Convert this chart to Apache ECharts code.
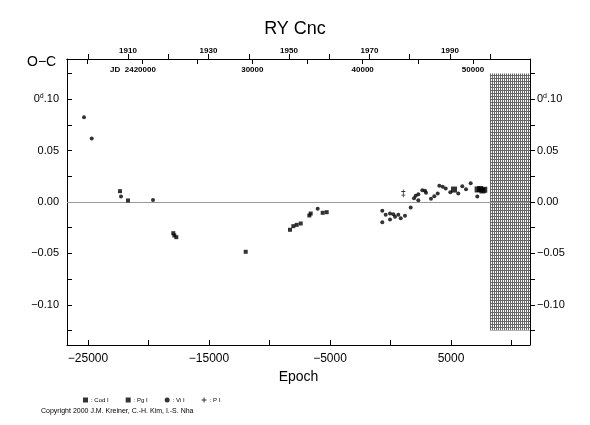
<!DOCTYPE html>
<html>
<head>
<meta charset="utf-8">
<script src="https://cdn.jsdelivr.net/npm/echarts@6/dist/echarts.min.js"></script>
<style>html,body{margin:0;padding:0;background:#fff}#c{width:590px;height:425px}</style>
</head>
<body>
<div id="c"></div>
<script>
// ---- data: [epoch, O-C (days)] ----
const codPoints = [[5248, 0.0121], [7200, 0.0122], [7400, 0.0126], [7600, 0.0112], [7750, 0.0119]];
const pgPoints = [[-22355, 0.0105], [-21694, 0.0015], [-17950, -0.0303], [-17868, -0.0325], [-17702, -0.0342],
  [-11967, -0.0484], [-8306, -0.0270], [-8033, -0.0235], [-7752, -0.0222], [-7421, -0.0209],
  [-6708, -0.0131], [-6595, -0.0112], [-5603, -0.0105], [-5273, -0.0099]];
const viPoints = [[-25331, 0.0823], [-24694, 0.0617], [-22273, 0.0053], [-19628, 0.0020], [-6017, -0.0066],
  [-678, -0.0086], [-678, -0.0196], [-397, -0.0124], [-41, -0.0112], [-41, -0.0170], [233, -0.0118],
  [372, -0.0144], [645, -0.0124], [843, -0.0157], [1198, -0.0134], [1669, -0.0053], [1942, 0.0037],
  [2083, 0.0060], [2298, 0.0076], [2298, 0.0017], [2629, 0.0115], [2851, 0.0109], [2934, 0.0089],
  [3347, 0.0031], [3620, 0.0056], [3901, 0.0083], [4033, 0.0157], [4314, 0.0148], [4562, 0.0131],
  [4942, 0.0095], [5603, 0.0083], [5934, 0.0153], [6240, 0.0124], [6628, 0.0182], [7173, 0.0053]];
const pPoints = [[1058, 0.0102], [1058, 0.0066]];

// axis ranges, ticks and labels
const epochRange = [-26736, 11529];
const epochTicks = [-25000, -20000, -15000, -10000, -5000, 0, 5000, 10000];
const epochLabels = [-25000, -15000, -5000, 5000];
const yearRange = [1894.84, 2009.88];
const yearTicks = [1900, 1910, 1920, 1930, 1940, 1950, 1960, 1970, 1980, 1990, 2000];
const yearLabels = [1910, 1930, 1950, 1970, 1990];
const jdRange = [2413202, 2455167];
const jdTicks = [2415000, 2420000, 2425000, 2430000, 2435000, 2440000, 2445000, 2450000];
const jdLabelValues = [2420000, 2430000, 2440000, 2450000];
const jdLabelText = ['{j|JD}  2420000{p|}', '30000', '40000', '50000'];
const ocRange = [-0.139, 0.139];
const ocTicks = [-0.125, -0.1, -0.075, -0.05, -0.025, 0, 0.025, 0.05, 0.075, 0.1, 0.125];
const ocLabels = [-0.10, -0.05, 0, 0.05, 0.10];
const hatchEpoch = [8223, 11529];
const hatchOC = [0.125, -0.125];

// hatch pattern
const pc = document.createElement('canvas');
pc.width = 2; pc.height = 3;
const pctx = pc.getContext('2d');
pctx.fillStyle = '#fff'; pctx.fillRect(0, 0, 2, 3);
pctx.fillStyle = '#666'; pctx.fillRect(0, 0, 1, 3); pctx.fillRect(0, 0, 2, 1);

const FONT = 'Liberation Sans';
function ocFmt(v) {
  const r = Math.round(v * 1000) / 1000;
  if (Math.abs(r - 0.1) < 1e-6) return '0{s|d}.10';
  return (r < 0 ? '\u2212' : '') + Math.abs(r).toFixed(2);
}
const ocRich = { s: { fontSize: 7, fontFamily: FONT, color: '#000', padding: [0, 0, 7, 0] } };
const black = { color: '#000', width: 1 };

const chart = echarts.init(document.getElementById('c'), null, { renderer: 'canvas' });
chart.setOption({
  animation: false,
  backgroundColor: '#fff',
  title: { text: 'RY Cnc', left: 'center', top: 15, textStyle: { fontFamily: FONT, fontSize: 18, fontWeight: 'normal', color: '#000' } },
  grid: { left: 67, right: 60, top: 59, bottom: 80 },
  legend: {
    left: 78, top: 392, itemWidth: 5, itemHeight: 5, itemGap: 17,
    textStyle: { fontFamily: FONT, fontSize: 6, color: '#000', padding: [0, 0, 0, -2] },
    data: [
      { name: ': Cod I', icon: 'rect' },
      { name: ': Pg I', icon: 'rect' },
      { name: ': Vi I', icon: 'circle' },
      { name: ': P I', icon: 'path://M4,0H6V4H10V6H6V10H4V6H0V4H4Z' }
    ]
  },
  graphic: [
    { type: 'text', left: 27, top: 55, style: { text: 'O\u2212C', font: '14px "Liberation Sans"', fill: '#000' } },
    { type: 'text', left: 41, top: 408, style: { text: 'Copyright 2000 J.M. Kreiner, C.-H. Kim, I.-S. Nha', font: '7px "Liberation Sans"', fill: '#000' } }
  ],
  xAxis: [
    {
      type: 'value', position: 'bottom', min: epochRange[0], max: epochRange[1],
      name: 'Epoch', nameLocation: 'middle', nameGap: 25,
      nameTextStyle: { fontFamily: FONT, fontSize: 14, color: '#000' },
      axisLine: { onZero: false, lineStyle: black },
      axisTick: { inside: true, length: 5, lineStyle: black, customValues: epochTicks },
      splitLine: { show: false },
      axisLabel: {
        customValues: epochLabels, margin: 8,
        fontFamily: FONT, fontSize: 12, color: '#000',
        formatter: v => (v < 0 ? '\u2212' + Math.abs(v) : String(v))
      }
    },
    {
      type: 'value', position: 'top', min: yearRange[0], max: yearRange[1],
      axisLine: { onZero: false, lineStyle: black },
      axisTick: { inside: false, length: 5, lineStyle: black, customValues: yearTicks },
      splitLine: { show: false },
      axisLabel: {
        customValues: yearLabels, margin: 4,
        fontFamily: FONT, fontSize: 8, fontWeight: 'bold', color: '#000',
        formatter: v => String(Math.round(v))
      }
    },
    {
      type: 'value', position: 'top', min: jdRange[0], max: jdRange[1],
      axisLine: { onZero: false, lineStyle: black },
      axisTick: { inside: true, length: 5, lineStyle: black, customValues: jdTicks },
      splitLine: { show: false },
      axisLabel: {
        customValues: jdLabelValues, inside: true, margin: 7,
        fontFamily: FONT, fontSize: 8, fontWeight: 'bold', color: '#000',
        rich: { j: { fontFamily: FONT, fontSize: 8, fontWeight: 'bold', color: '#000' }, p: { width: 18 } },
        formatter: v => jdLabelText[jdLabelValues.indexOf(Math.round(v))] || ''
      }
    }
  ],
  yAxis: [
    {
      type: 'value', position: 'left', min: ocRange[0], max: ocRange[1],
      axisLine: { onZero: false, lineStyle: black },
      axisTick: { inside: true, length: 5, lineStyle: black, customValues: ocTicks },
      splitLine: { show: false },
      axisLabel: { customValues: ocLabels, margin: 8, fontFamily: FONT, fontSize: 11, color: '#000', formatter: ocFmt, rich: ocRich }
    },
    {
      type: 'value', position: 'right', min: ocRange[0], max: ocRange[1],
      axisLine: { onZero: false, lineStyle: black },
      axisTick: { inside: false, length: 5, lineStyle: black, customValues: ocTicks },
      splitLine: { show: false },
      axisLabel: { customValues: ocLabels, margin: 7, fontFamily: FONT, fontSize: 11, color: '#000', formatter: ocFmt, rich: ocRich }
    }
  ],
  series: [
    {
      name: ': Cod I', type: 'scatter', data: codPoints, symbol: 'rect', symbolSize: 6,
      itemStyle: { color: '#000' }, z: 5,
      markLine: {
        silent: true, symbol: 'none', label: { show: false },
        lineStyle: { color: '#999', width: 1, type: 'solid' },
        data: [{ yAxis: 0 }]
      },
      markArea: {
        silent: true,
        itemStyle: { color: { image: pc, repeat: 'repeat' }, opacity: 1 },
        data: [[{ coord: [hatchEpoch[0], hatchOC[0]] }, { coord: [hatchEpoch[1], hatchOC[1]] }]]
      }
    },
    { name: ': Pg I', type: 'scatter', data: pgPoints, symbol: 'rect', symbolSize: 4, itemStyle: { color: '#000' }, z: 5 },
    { name: ': Vi I', type: 'scatter', data: viPoints, symbol: 'circle', symbolSize: 4, itemStyle: { color: '#000' }, z: 5 },
    { name: ': P I', type: 'scatter', data: pPoints, symbol: 'path://M4,0H6V4H10V6H6V10H4V6H0V4H4Z', symbolSize: 4, itemStyle: { color: '#000' }, z: 5 }
  ]
});
</script>
</body>
</html>
